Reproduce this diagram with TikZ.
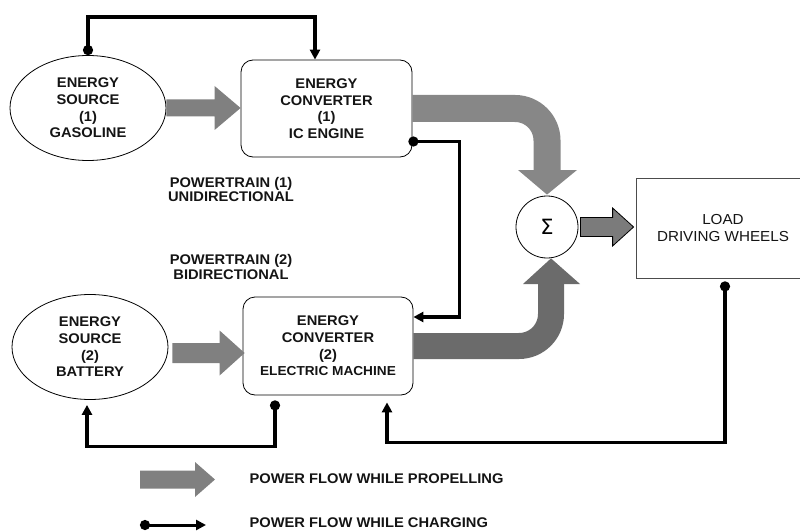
\documentclass[tikz,border=0pt]{standalone}
\usepackage{fontspec}
\setmainfont{Liberation Sans}[FakeStretch=1.05]
\newfontfamily\symfont{DejaVu Sans}
\usetikzlibrary{arrows.meta,calc,shapes.geometric}
\definecolor{arrA}{HTML}{878787}
\definecolor{arrL}{HTML}{808080}
\definecolor{arrB}{HTML}{6B6B6B}
\definecolor{arrC}{HTML}{7B7B7B}
\definecolor{txtc}{HTML}{141414}
\newcommand\harrow[6]{\path[#1] let \p1=(#2), \p2=(#3) in
  (\x1,\y1+#4) -- (\x2-#6,\y1+#4) -- (\x2-#6,\y1+#5) -- (\x2,\y1) --
  (\x2-#6,\y1-#5) -- (\x2-#6,\y1-#4) -- (\x1,\y1-#4) -- cycle;}
\begin{document}
\begin{tikzpicture}[x=1pt,y=-1pt,
  txt/.style={font=\fontsize{14}{16.6}\selectfont\bfseries, align=center, text=txtc},
  src/.style={txt, draw, ellipse, minimum width=156pt, minimum height=105pt, inner sep=0pt, line width=0.8pt},
  conv/.style={txt, draw, rounded corners=12pt, minimum width=171pt, minimum height=97pt, inner sep=0pt, line width=0.8pt},
  chg/.style={line width=3.4pt, {Circle[length=10pt]}-{Triangle[width=10pt,length=10pt]}},
  lbl/.style={font=\fontsize{14}{14.5}\selectfont\bfseries, align=center, text=txtc},
  leg/.style={font=\fontsize{14}{15}\selectfont\bfseries, anchor=west, text=txtc}
]
\useasboundingbox (0,0) rectangle (800,532);
% nodes
\node[src] (e1) at (88,108) {ENERGY\\SOURCE\\(1)\\GASOLINE};
\node[conv] (ice) at (326.5,108.5) {ENERGY\\CONVERTER\\(1)\\IC ENGINE};
\node[src] (e2) at (90,347) {ENERGY\\SOURCE\\(2)\\BATTERY};
\node[conv, minimum width=170pt, minimum height=98pt] (em) at (328,346)
  {ENERGY\\CONVERTER\\(2)\\{\fontsize{13}{16.6}\selectfont ELECTRIC MACHINE}};
\node[draw, circle, minimum size=62pt, inner sep=0pt, line width=0.8pt,
  font=\symfont\fontsize{21}{21}\selectfont] (sig) at (547,227) {Σ};
\node[draw=black!70, line width=0.8pt, minimum width=174pt, minimum height=100pt,
  align=center, font=\fontsize{14.5}{17}\selectfont, text=txtc] (load) at (723,228)
  {LOAD\\DRIVING WHEELS};
\node[lbl] (pt1) at (231,189.5) {POWERTRAIN (1)\\UNIDIRECTIONAL};
\node[lbl] (pt2) at (231,267) {POWERTRAIN (2)\\BIDIRECTIONAL};
% propelling (gray) arrows
\harrow{fill=arrL}{e1.east}{ice.west}{8.5pt}{22pt}{26pt}
\harrow{fill=arrL}{$(e2.east)+(4,6)$}{$(em.west)+(2,6)$}{10pt}{22.5pt}{25pt}
\harrow{fill=arrC,draw=black,line width=0.8pt}{$(sig.east)+(2,0)$}{$(load.west)+(-2,0)$}{9.5pt}{19pt}{21pt}
\draw[arrA, line width=27pt, rounded corners=32pt] (ice.east) -- (547,108.5) -- (547,172);
\fill[arrA] (518,170) -- (577,170) -- ($(sig.north)+(0,-1)$) -- cycle;
\draw[arrB, line width=26pt, rounded corners=32pt] (em.east) -- (551,346) -- (551,282);
\fill[arrB] (523,284) -- (580,284) -- ($(sig.south)+(4,0)$) -- cycle;
% charging (black) connectors
\coordinate (t1) at (88,17);
\coordinate (t2) at (315,17);
\draw[chg] (e1.north) -- (t1) -- (t2) -- (t2 |- ice.north);
\draw[chg] ($(ice.east)+(-4,33)$) -- ++(51,0) |- ($(em.east)+(0,-29)$);
\draw[chg] ($(em.south)+(-53,5)$) -- ++(0,46) -| ($(e2.south)+(-3,5)$);
\draw[chg] ($(load.south)+(2,3)$) -- ++(0,161) -| ($(em.south)+(59,7)$);
% legend
\coordinate (lp1) at (140,479.5);
\coordinate (lp2) at (215,479.5);
\harrow{fill=arrL}{lp1}{lp2}{9pt}{17.5pt}{20pt}
\node[leg] (lgp) at (246,479) {POWER FLOW WHILE PROPELLING};
\coordinate (lc1) at (140,525);
\coordinate (lc2) at (206,525);
\draw[chg, line width=3pt] (lc1) -- (lc2);
\node[leg] (lgc) at (246,523) {POWER FLOW WHILE CHARGING};
\end{tikzpicture}
\end{document}
